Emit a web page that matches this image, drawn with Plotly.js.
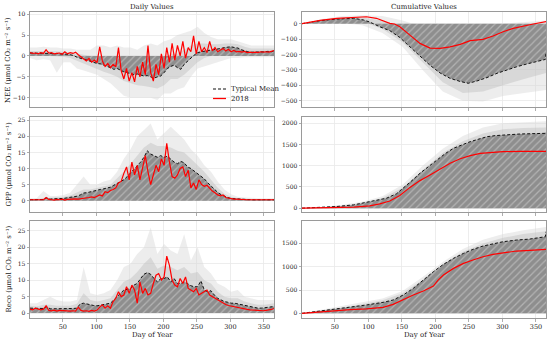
<!DOCTYPE html>
<html><head><meta charset="utf-8">
<script src="https://cdn.plot.ly/plotly-3.0.1.min.js"></script>
<style>html,body{margin:0;padding:0;background:#fff}#chart{width:550px;height:340px}</style>
</head><body><div id="chart"></div>
<script>
function seq(a,b,s){const r=[];for(let d=a;d<=b;d+=s)r.push(d);if(r[r.length-1]!==b)r.push(b);return r;}
const days5=seq(1,365,5);
const days4=seq(1,365,4);
const days10=seq(1,365,10);
const daysC=[1,31,61,91,121,151,181,211,241,271,301,331,365];

// ---- Daily NEE ----
const neeMean=[0.7,0.7,0.6,0.6,0.7,0.6,0.6,0.5,0.6,0.5, 0.5,0.4,0.3,0.1,-0.3,-0.6,-0.8,-1.0,-1.3,-1.5, -1.8,-1.9,-2.3,-2.5,-2.8,-3.2,-3.0,-3.5,-3.8,-4.0, -4.2,-4.5,-4.3,-4.6,-4.8,-4.7,-5.0,-5.3,-5.0,-4.8, -4.0,-3.0,-2.5,-2.2,-2.8,-3.2,-2.0,-1.2,-0.6,0.2, 0.8,1.0,1.2,1.3,1.4,1.5,1.6,1.8,2.0,2.1, 2.2,2.0,1.9,1.5,1.2,1.0,0.9,0.9,1.0,0.9, 1.0,1.1,1.0,1.2];
const nee2018=[0.8,0.6,0.7,0.5,0.8,0.6,1.5,0.7,0.8,0.5, 0.6,0.7,0.4,1.0,0.5,0.8,0.6,0.9,0.3,-0.2, -0.8,-1.2,-0.6,-1.5,-1.0,-1.6,2.2,-1.2,-2.5,-1.8, -2.8,-2.0,-2.6,2.0,-3.5,-5.5,-3.0,-6.0,-4.0,-6.2, -2.5,-5.0,-1.5,-4.5,2.5,-4.0,-6.0,-2.0,-4.5,0.5, -3.0,2.0,-1.5,3.0,-1.0,2.5,0.0,3.5,-0.5,2.0, 1.0,4.8,0.5,3.5,1.0,2.0,0.8,3.5,1.2,2.0, 1.0,1.5,1.8,1.2,1.6,1.0,1.3,1.0,1.1,0.9, 1.1,0.8,0.9,0.8,0.9,0.8,1.0,0.9,1.0,0.9, 1.1,1.3];
const neeHi=[2.0,2.0,2.2,2.0,2.0,1.8,1.8,1.5,1.5,1.5, 2.5,2.5,2.0,2.5,2.0,2.0,1.5,2.5,3.0,2.5, 3.5,4.0,5.0,5.5,6.0,7.0,5.5,4.5,4.0,4.0, 4.0,3.5,3.0,2.5,2.5,2.5,2.5,2.5];
const neeLo=[-0.5,-1.0,-0.8,-1.0,-4.0,-1.5,-1.5,-3.0,-3.5,-4.0, -4.5,-5.5,-6.5,-8.0,-9.5,-10.0,-10.0,-10.0,-10.0,-10.5, -9.0,-9.0,-8.0,-7.5,-5.0,-3.0,-2.5,-2.0,-1.5,-1.0, -0.5,-0.5,-0.3,-0.3,-0.3,-0.3,-0.3,-0.3];
const neeInHi=[1.2,1.2,1.3,1.2,1.1,1.0,0.9,0.6,0.3,0.0, 0.0,-0.3,-0.5,-0.8,-1.0,-1.5,-1.5,-1.8,-2.0,-1.8, -1.0,0.5,0.5,1.5,2.5,3.0,3.0,2.8,2.8,3.0, 3.0,2.8,2.2,1.8,1.8,1.8,1.8,1.8];
const neeInLo=[0.2,0.1,0.1,0.0,-0.2,-0.2,-0.5,-1.2,-1.8,-2.5, -3.2,-3.8,-4.3,-5.0,-6.0,-6.5,-7.0,-7.2,-7.5,-7.8, -7.0,-5.5,-5.5,-4.5,-3.0,-1.5,-0.5,0.0,0.3,0.8, 1.0,0.8,0.3,0.3,0.3,0.3,0.3,0.3];

// ---- Daily GPP ----
const gppMean=[0.3,0.3,0.3,0.3,0.4,0.9,0.5,0.6,0.6,0.7, 0.7,0.9,1.0,1.2,1.4,1.8,2.4,2.5,2.8,3.0, 3.3,3.5,3.7,3.9,4.2,4.8,5.3,6.0,6.5,7.5, 8.6,9.8,10.8,12.0,13.5,15.5,14.5,14.0,13.5,14.0, 13.5,13.8,13.0,12.0,11.5,12.2,11.8,10.5,10.0,9.2, 8.3,7.6,6.8,5.6,4.6,3.5,2.6,1.9,1.4,1.0, 0.7,0.6,0.5,0.4,0.4,0.3,0.3,0.3,0.3,0.3, 0.3,0.3,0.3,0.3];
const gpp2018=[0.3,0.3,0.4,0.3,0.4,0.3,1.0,0.4,0.3,0.2, 0.4,0.3,0.5,0.2,0.4,0.5,0.4,0.6,0.5,0.6, 0.8,0.7,1.0,1.2,1.0,1.4,1.8,1.5,2.8,2.5, 3.2,3.5,4.0,5.5,6.0,8.5,10.5,6.5,12.0,8.0, 11.0,6.5,10.0,14.0,9.0,5.0,8.0,11.0,9.0,13.0, 11.0,17.8,12.0,7.5,7.0,8.0,10.0,10.5,7.5,9.5, 4.0,5.5,3.5,6.5,5.0,4.5,4.8,3.8,3.0,2.5, 1.8,1.5,1.8,1.0,0.8,0.6,0.5,0.5,0.4,0.4, 0.3,0.3,0.3,0.3,0.2,0.3,0.3,0.2,0.3,0.2, 0.3,0.3];
const gppHi=[0.8,0.8,3.0,1.5,1.5,1.8,2.5,5.0,7.5,5.0, 5.0,6.0,6.5,9.0,13.0,16.0,20.0,22.0,24.0,19.0, 21.0,23.0,21.0,19.0,16.0,14.0,11.0,9.0,6.0,3.5, 2.0,1.2,1.0,0.8,0.8,0.8,0.8,0.8];
const gppInHi=[0.5,0.5,0.7,0.9,1.0,1.2,1.6,2.5,3.5,3.5, 4.0,4.5,5.0,7.0,9.0,11.5,14.0,16.5,18.0,17.0, 17.0,16.5,15.5,15.0,13.0,11.0,9.0,6.5,4.0,2.2, 1.2,0.8,0.6,0.5,0.5,0.5,0.5,0.5];

// ---- Daily Reco ----
const recoMean=[1.5,1.5,1.4,1.5,1.4,2.0,1.3,1.3,1.3,1.3, 1.2,1.3,1.3,1.4,1.5,2.8,3.0,2.7,2.5,2.3, 2.2,2.4,2.5,2.8,3.0,4.0,5.0,6.2,7.0,7.2, 7.5,8.5,9.0,10.5,11.8,12.3,11.8,10.5,9.5,10.5, 10.5,11.0,9.5,10.5,9.0,9.0,9.5,9.0,8.3,8.0, 8.0,9.8,7.0,6.5,6.8,5.5,4.5,4.0,3.5,3.3, 3.0,3.0,2.8,2.5,2.2,2.0,1.8,1.6,1.5,1.5, 1.6,1.7,1.8,2.0];
const reco2018=[1.2,1.0,1.5,1.3,1.0,1.2,2.2,0.8,0.7,0.9, 0.6,0.8,0.7,0.6,0.7,0.6,0.7,0.6,1.8,0.8, 0.6,0.7,0.5,0.8,0.6,0.9,1.8,2.5,1.5,2.2, 1.5,3.5,4.5,6.5,5.0,5.5,8.0,6.0,8.5,7.0, 3.0,9.5,6.0,7.5,5.5,6.0,9.0,11.5,12.0,10.0, 11.0,17.3,14.5,10.0,8.5,8.0,10.5,9.0,11.0,7.5, 7.0,6.5,7.5,5.5,6.0,6.5,7.0,5.5,5.0,4.5, 4.2,3.5,3.0,2.6,2.3,2.1,1.9,1.7,1.5,1.4, 1.3,1.1,1.0,0.9,0.8,0.8,0.7,0.7,0.8,0.9, 1.1,1.4];
const recoHi=[3.0,3.0,4.0,5.0,4.0,3.5,3.5,4.0,14.0,6.0, 5.5,6.0,7.0,10.0,14.0,15.0,18.0,20.0,26.0,18.0, 21.0,19.0,18.0,24.0,16.0,20.0,14.0,12.0,9.0,8.0, 6.5,7.0,5.0,4.5,4.0,4.0,4.0,4.0];
const recoInHi=[2.2,2.0,2.5,2.5,2.2,2.2,2.2,2.8,6.0,4.0, 3.5,4.0,4.5,7.0,9.5,10.5,12.5,15.0,17.0,13.5, 14.5,14.0,13.0,14.0,12.0,12.5,10.0,9.0,6.5,5.0, 4.5,4.5,3.5,3.0,2.5,2.5,2.8,3.0];

// ---- Cumulative ----
const cNeeLo=[0,5,5,-10,-60,-150,-300,-440,-500,-505,-470,-450,-430];
const cNeeHi=[0,30,50,55,50,20,-20,-40,-30,-10,0,10,20];
const cNeeInLo=[0,12,22,15,-35,-120,-250,-380,-450,-440,-400,-360,-320];
const cNeeInHi=[0,25,40,40,20,-40,-120,-200,-250,-230,-190,-160,-140];
const cNeeMeanDays=[1,28,53,78,93,102,117,132,147,162,177,192,207,222,237,249,262,277,292,306,321,336,351,364,365];
const cNeeMean=[0,20,30,35,24,11,-20,-45,-90,-150,-205,-270,-320,-355,-375,-387,-372,-350,-322,-300,-280,-262,-247,-232,-188];
const cNee2018Days=[1,28,53,78,97,112,124,132,139,147,162,177,192,207,222,237,252,271,286,301,316,331,346,365];
const cNee2018=[0,22,35,43,45,35,13,2,-2,-20,-74,-128,-158,-160,-150,-134,-110,-102,-80,-52,-30,-15,-2,13];

const cGppHi=[0,30,80,150,280,550,1000,1400,1700,1900,2000,2030,2050];
const cGppInHi=[0,20,60,120,240,480,900,1300,1580,1760,1860,1890,1900];
const cGppMeanDays=[1,28,53,78,102,127,142,152,165,177,190,202,215,227,240,252,265,277,290,301,326,364,365];
const cGppMean=[0,15,40,78,150,235,340,470,650,824,990,1137,1290,1412,1500,1569,1630,1686,1712,1725,1749,1765,1800];
const cGpp2018Days=[1,53,78,102,117,132,147,162,177,192,207,222,237,252,267,282,301,326,365];
const cGpp2018=[0,16,24,55,100,170,300,490,650,784,930,1060,1165,1239,1294,1318,1333,1341,1341];

const cRecoHi=[0,80,150,230,320,480,780,1100,1380,1580,1700,1780,1850];
const cRecoInHi=[0,60,120,200,280,430,720,1050,1320,1500,1620,1700,1760];
const cRecoMeanDays=[1,48,73,97,122,137,152,167,182,197,212,227,242,256,271,286,301,321,341,364,365];
const cRecoMean=[0,86,121,179,236,286,393,536,714,893,1050,1179,1286,1371,1443,1493,1536,1571,1593,1643,1750];
const cReco2018Days=[1,48,73,97,122,137,152,167,182,197,204,212,227,242,256,271,286,301,321,341,365];
const cReco2018=[0,60,78,95,128,193,300,393,479,586,714,821,964,1071,1143,1214,1264,1300,1336,1350,1371];

const xTicks=[50,100,150,200,250,300,350];
const yLabels=['NEE (μmol CO₂ m⁻² s⁻¹)','GPP (μmol CO₂ m⁻² s⁻¹)','Reco (μmol CO₂ m⁻² s⁻¹)'];

// ---- styling ----
const FONT='DejaVu Serif';
const OUTER='rgba(215,215,215,0.45)';
const INNER='rgba(185,185,185,0.4)';
const HATCH={shape:'/',bgcolor:'#8e8e8e',fgcolor:'#b3b3b3',size:5,solidity:0.25};
const traces=[];
function band(xa,ya,x,lo,hi,color){
  if(lo){traces.push({x:x,y:lo,xaxis:xa,yaxis:ya,type:'scatter',mode:'lines',line:{width:0},hoverinfo:'skip',showlegend:false});
    traces.push({x:x,y:hi,xaxis:xa,yaxis:ya,type:'scatter',mode:'lines',line:{width:0},fill:'tonexty',fillcolor:color,hoverinfo:'skip',showlegend:false});}
  else traces.push({x:x,y:hi,xaxis:xa,yaxis:ya,type:'scatter',mode:'lines',line:{width:0},fill:'tozeroy',fillcolor:color,hoverinfo:'skip',showlegend:false});
}
function hatch(xa,ya,x,y){traces.push({x:x,y:y,xaxis:xa,yaxis:ya,type:'scatter',mode:'lines',line:{width:0,color:'rgba(0,0,0,0)'},fill:'tozeroy',fillcolor:'#8e8e8e',fillpattern:HATCH,hoverinfo:'skip',showlegend:false});}
function meanLine(xa,ya,x,y){traces.push({x:x,y:y,xaxis:xa,yaxis:ya,type:'scatter',mode:'lines',line:{color:'#111',width:1,dash:'3px,2px'},name:'Typical Mean',showlegend:false});}
function redLine(xa,ya,x,y){traces.push({x:x,y:y,xaxis:xa,yaxis:ya,type:'scatter',mode:'lines',line:{color:'#ff0000',width:1.2},name:'2018',showlegend:false});}

band('x','y',days10,neeLo,neeHi,OUTER);
band('x','y',days10,neeInLo,neeInHi,INNER);
hatch('x','y',days5,neeMean);
meanLine('x','y',days5,neeMean);
redLine('x','y',days4,nee2018);
band('x2','y2',daysC,cNeeLo,cNeeHi,OUTER);
band('x2','y2',daysC,cNeeInLo,cNeeInHi,INNER);
hatch('x2','y2',cNeeMeanDays,cNeeMean);
meanLine('x2','y2',cNeeMeanDays,cNeeMean);
redLine('x2','y2',cNee2018Days,cNee2018);
band('x3','y3',days10,null,gppHi,OUTER);
band('x3','y3',days10,null,gppInHi,INNER);
hatch('x3','y3',days5,gppMean);
meanLine('x3','y3',days5,gppMean);
redLine('x3','y3',days4,gpp2018);
band('x4','y4',daysC,null,cGppHi,OUTER);
band('x4','y4',daysC,null,cGppInHi,INNER);
hatch('x4','y4',cGppMeanDays,cGppMean);
meanLine('x4','y4',cGppMeanDays,cGppMean);
redLine('x4','y4',cGpp2018Days,cGpp2018);
band('x5','y5',days10,null,recoHi,OUTER);
band('x5','y5',days10,null,recoInHi,INNER);
hatch('x5','y5',days5,recoMean);
meanLine('x5','y5',days5,recoMean);
redLine('x5','y5',days4,reco2018);
band('x6','y6',daysC,null,cRecoHi,OUTER);
band('x6','y6',daysC,null,cRecoInHi,INNER);
hatch('x6','y6',cRecoMeanDays,cRecoMean);
meanLine('x6','y6',cRecoMeanDays,cRecoMean);
redLine('x6','y6',cReco2018Days,cReco2018);

const W=550,H=340;
const colDom=[[30/W,274/W],[302/W,546/W]];
const rowDom=[[1-107/H,1-12/H],[1-212/H,1-117/H],[1-318/H,1-221/H]];
const base={showgrid:true,gridcolor:'#e8e8e8',gridwidth:0.8,zeroline:false,showline:true,linecolor:'#9a9a9a',linewidth:1,mirror:true,ticks:'outside',ticklen:2.5,tickwidth:0.8,tickcolor:'#9a9a9a',tickfont:{family:FONT,size:6,color:'#222'}};
const yRanges=[[-12.2,10.5],[-541,76],[-3.5,26],[-90,2150],[-1.5,28],[-100,1980]];
const yTicks=[[-10,-5,0,5,10],[-500,-400,-300,-200,-100,0],[0,5,10,15,20,25],[0,500,1000,1500,2000],[0,5,10,15,20,25],[0,500,1000,1500]];
const layout={width:W,height:H,margin:{l:0,r:0,t:0,b:0},paper_bgcolor:'#fff',plot_bgcolor:'#fff',showlegend:false,annotations:[],shapes:[]};
for(let i=0;i<6;i++){
  const r=Math.floor(i/2),c=i%2,n=i+1,s=n===1?'':String(n);
  layout['xaxis'+s]=Object.assign({},base,{domain:colDom[c],anchor:'y'+s,range:[1,365],tickvals:xTicks,showticklabels:r===2,tickfont:{family:FONT,size:6.5,color:'#222'}});
  layout['yaxis'+s]=Object.assign({},base,{domain:rowDom[r],anchor:'x'+s,range:yRanges[i],tickvals:yTicks[i]});
}
const A=(t,x,y,o)=>Object.assign({text:t,x:x,y:y,xref:'paper',yref:'paper',xanchor:'center',yanchor:'middle',showarrow:false,font:{family:FONT,size:7,color:'#222'}},o||{});
layout.annotations.push(A('Daily Values',152/W,1-6.5/H));
layout.annotations.push(A('Cumulative Values',424/W,1-6.5/H));
layout.annotations.push(A('Day of Year',152/W,1-335/H));
layout.annotations.push(A('Day of Year',424/W,1-335/H));
const rowC=[60,164.5,269.5];
for(let r=0;r<3;r++)layout.annotations.push(A(yLabels[r],8/W,1-rowC[r]/H,{textangle:-90,font:{family:FONT,size:7,color:'#222'}}));
layout.shapes.push({type:'line',xref:'paper',yref:'paper',x0:213/W,x1:226/W,y0:1-89/H,y1:1-89/H,line:{color:'#111',width:1,dash:'3px,2px'}});
layout.shapes.push({type:'line',xref:'paper',yref:'paper',x0:213/W,x1:226/W,y0:1-98.5/H,y1:1-98.5/H,line:{color:'#ff0000',width:1.3}});
layout.annotations.push(A('Typical Mean',229/W,1-89/H,{xanchor:'left'}));
layout.annotations.push(A('2018',229/W,1-98.5/H,{xanchor:'left'}));

Plotly.newPlot('chart',traces,layout,{staticPlot:true});
</script></body></html>
